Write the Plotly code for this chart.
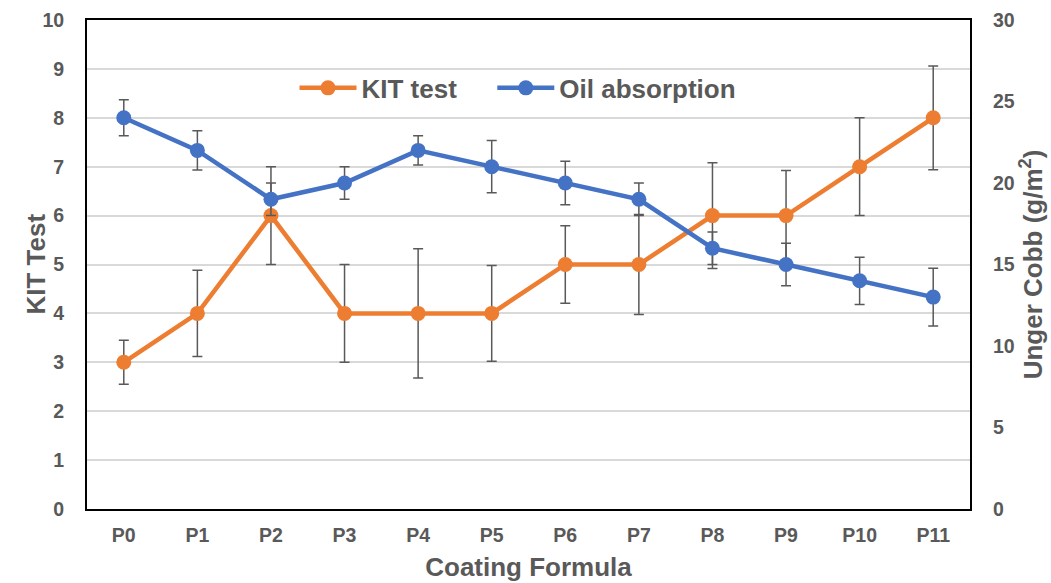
import plotly.graph_objects as go

categories = ["P0", "P1", "P2", "P3", "P4", "P5", "P6", "P7", "P8", "P9", "P10", "P11"]
kit_values = [3, 4, 6, 4, 4, 4, 5, 5, 6, 6, 7, 8]
kit_err = [0.45, 0.88, 1.0, 1.0, 1.32, 0.98, 0.79, 1.02, 1.08, 0.92, 1.0, 1.06]
oil_values = [24, 22, 19, 20, 22, 21, 20, 19, 16, 15, 14, 13]
oil_err = [1.1, 1.2, 1.0, 1.0, 0.9, 1.6, 1.34, 1.0, 1.0, 1.3, 1.45, 1.77]
left_ticks = list(range(0, 11))
right_ticks = list(range(0, 31, 5))

ORANGE = "#ED7D31"
BLUE = "#4472C4"
GREY = "#595959"
FONT = "Liberation Sans, Arial, sans-serif"
TICKFONT = dict(size=19.5, family=FONT, color=GREY, weight="bold")
LEGFONT = dict(size=26, family=FONT, color=GREY, weight="bold")
TITLEFONT = dict(size=26, family=FONT, color=GREY, weight="bold")

fig = go.Figure()
fig.add_trace(go.Scatter(
    x=categories, y=kit_values, name="KIT test", mode="lines+markers",
    line=dict(color=ORANGE, width=4.5), marker=dict(color=ORANGE, size=15),
    error_y=dict(type="data", array=kit_err, color=GREY, thickness=1.5, width=5),
    yaxis="y", legend="legend",
))
fig.add_trace(go.Scatter(
    x=categories, y=oil_values, name="Oil absorption", mode="lines+markers",
    line=dict(color=BLUE, width=4.5), marker=dict(color=BLUE, size=15),
    error_y=dict(type="data", array=oil_err, color=GREY, thickness=1.5, width=5),
    yaxis="y2", legend="legend2",
))

fig.update_layout(
    width=1051, height=583,
    margin=dict(l=87, r=81, t=20, b=74),
    paper_bgcolor="white", plot_bgcolor="white",
    font=dict(family=FONT, color=GREY, size=18),
    showlegend=True,
    legend=dict(
        orientation="h", x=0.235, xanchor="left", y=0.861, yanchor="middle",
        bgcolor="rgba(0,0,0,0)", font=LEGFONT, itemwidth=57,
    ),
    legend2=dict(
        orientation="h", x=0.459, xanchor="left", y=0.861, yanchor="middle",
        bgcolor="rgba(0,0,0,0)", font=LEGFONT, itemwidth=57,
    ),
    xaxis=dict(
        type="category", range=[-0.5, 11.5], automargin=False,
        showline=True, mirror=True, linecolor="black", linewidth=2,
        showgrid=False, ticks="", zeroline=False, ticklabelstandoff=8,
        tickfont=TICKFONT,
        title=dict(text="Coating Formula", font=TITLEFONT, standoff=12),
    ),
    yaxis=dict(
        range=[0, 10], tickvals=left_ticks, automargin=False,
        showline=True, mirror=True, linecolor="black", linewidth=2,
        showgrid=True, gridcolor="#D9D9D9", gridwidth=1.5, zeroline=False,
        ticks="", ticklabelstandoff=17,
        tickfont=TICKFONT,
    ),
    yaxis2=dict(
        range=[0, 30], tickvals=right_ticks, overlaying="y", side="right", automargin=False,
        showline=True, linecolor="black", linewidth=2,
        showgrid=False, zeroline=False, ticks="", ticklabelstandoff=17,
        tickfont=TICKFONT,
        title=dict(text="Unger Cobb (g/m<sup>2</sup>)", font=TITLEFONT, standoff=10),
    ),
    annotations=[dict(
        text="KIT Test", xref="paper", yref="paper", x=0, y=0.5,
        xanchor="center", yanchor="middle", xshift=-52, textangle=-90,
        showarrow=False, font=TITLEFONT,
    )],
)

fig.write_html("out.html")
